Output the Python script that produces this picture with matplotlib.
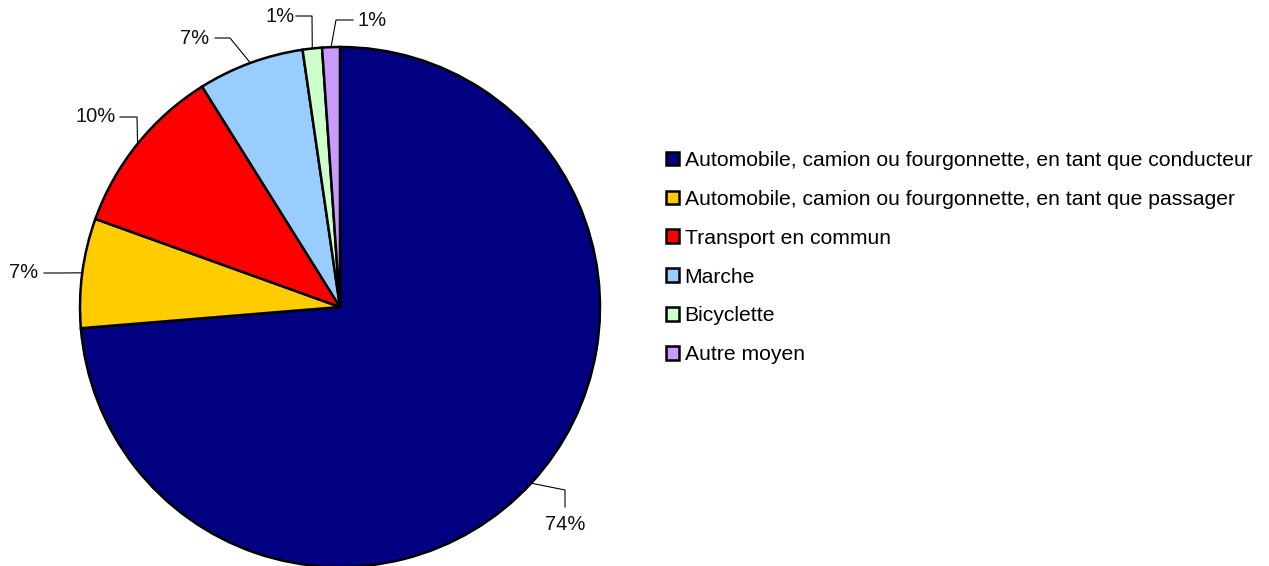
import numpy as np
import matplotlib.pyplot as plt

plt.rcParams['font.family'] = ['Liberation Sans', 'DejaVu Sans']

# mode de transport (part en %)
categories = ['Automobile, camion ou fourgonnette, en tant que conducteur',
              'Automobile, camion ou fourgonnette, en tant que passager',
              'Transport en commun',
              'Marche',
              'Bicyclette',
              'Autre moyen']
values = [73.7, 6.8, 10.6, 6.6, 1.2, 1.1]
pct_labels = ['74%', '7%', '10%', '7%', '1%', '1%']
colors = ['#000080', '#FFCC00', '#FF0000', '#99CCFF', '#CCFFCC', '#CC99FF']

W, H = 1269, 566
fig = plt.figure(figsize=(W / 100, H / 100), dpi=100)
ax = fig.add_axes([0, 0, 1, 1])

cx, cy, r = 340, H - 307, 260
wedges, _ = ax.pie(values, colors=colors, startangle=90, counterclock=False,
                   center=(cx, cy), radius=r, frame=True,
                   wedgeprops=dict(edgecolor='black', linewidth=1.8))
ax.set_xlim(0, W)
ax.set_ylim(0, H)
ax.axis('off')

# label layout: text position and elbow point (pixels from top-left)
text_pos = [(565, 525), (24, 273), (96, 117), (195, 38), (280, 16), (372, 21)]
elbow = [[(565, 507), (565, 490)],
         [(44, 273), (60, 273)],
         [(120, 117), (137, 117)],
         [(215, 38), (230, 38)],
         [(296, 16), (312, 16)],
         [(353, 20), (336, 20)]]

for w, lab, tp, el in zip(wedges, pct_labels, text_pos, elbow):
    mid = np.deg2rad((w.theta1 + w.theta2) / 2)
    ax_x = cx + r * np.cos(mid)
    ax_y = cy + r * np.sin(mid)
    xs = [p[0] for p in el] + [ax_x]
    ys = [H - p[1] for p in el] + [ax_y]
    ax.plot(xs, ys, color='black', linewidth=0.8)
    ax.text(tp[0], H - tp[1], lab, ha='center', va='center', fontsize=14.5, color='#111111')

leg = fig.legend(wedges, categories, loc='upper left', bbox_to_anchor=(666 / W, 1 - 151 / H),
                 frameon=False, fontsize=15.2, handlelength=0.62, handleheight=0.62,
                 handletextpad=0.26, labelspacing=0.94, borderaxespad=0, borderpad=0)

fig.savefig('out.png', dpi=100)
